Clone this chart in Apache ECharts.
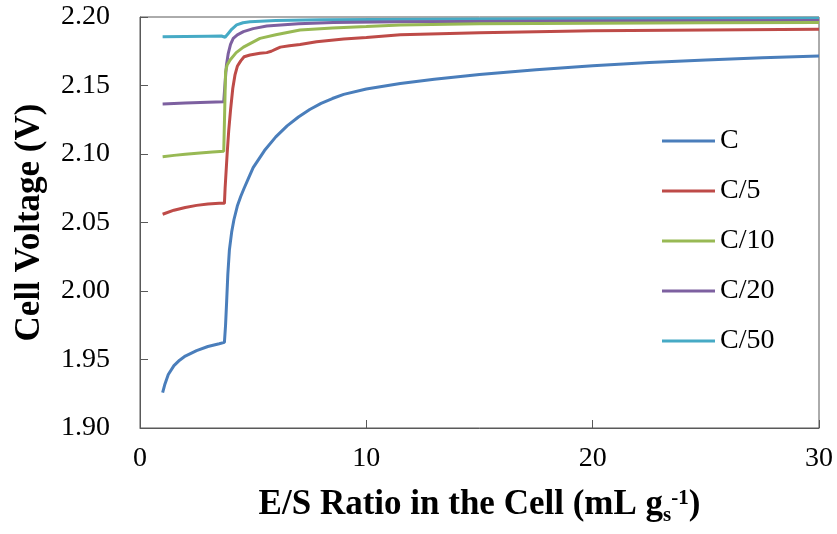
<!DOCTYPE html>
<html>
<head>
<meta charset="utf-8">
<script src="https://cdn.jsdelivr.net/npm/echarts@6/dist/echarts.min.js"></script>
<style>
  html, body { margin: 0; padding: 0; background: #fff; }
  #chart { width: 837px; height: 534px; }
</style>
</head>
<body>
<div id="chart"></div>
<script>
// Cell voltage vs. electrolyte/sulfur ratio at several C-rates
const seriesNames = ['C', 'C/5', 'C/10', 'C/20', 'C/50'];
const seriesColors = ['#4A7EBB', '#BE4B48', '#98B954', '#7D60A0', '#46AAC5'];

// C
const esC = [1, 1.1, 1.25, 1.5, 1.75, 2, 2.5, 3, 3.5, 3.73, 3.78, 3.83, 3.88, 3.95, 4.05, 4.15, 4.3, 4.45, 4.6, 4.8, 5, 5.5, 6, 6.5, 7, 7.5, 8, 8.5, 9, 10, 11.5, 13, 15, 17.5, 20, 22.5, 25, 27.5, 30];
const vC  = [1.9258, 1.932, 1.939, 1.9455, 1.9495, 1.9525, 1.9565, 1.9595, 1.9615, 1.9625, 1.975, 1.993, 2.012, 2.030, 2.043, 2.052, 2.062, 2.069, 2.075, 2.0825, 2.090, 2.1025, 2.1125, 2.1205, 2.127, 2.1325, 2.137, 2.1405, 2.1435, 2.1475, 2.1515, 2.1545, 2.158, 2.1615, 2.1645, 2.1668, 2.1687, 2.1702, 2.1715];

// C/5
const esC5 = [1, 1.5, 2, 2.5, 3, 3.5, 3.73, 3.76, 3.85, 3.92, 4.0, 4.1, 4.2, 4.3, 4.45, 4.6, 4.86, 5.3, 5.6, 5.8, 6.0, 6.2, 6.6, 7.07, 7.8, 9, 10, 11.5, 15, 20, 25, 30];
const vC5  = [2.056, 2.059, 2.061, 2.0625, 2.0635, 2.064, 2.064, 2.075, 2.100, 2.117, 2.132, 2.148, 2.158, 2.164, 2.168, 2.171, 2.1723, 2.1735, 2.174, 2.175, 2.1765, 2.178, 2.179, 2.180, 2.182, 2.184, 2.185, 2.187, 2.1885, 2.190, 2.1905, 2.191];

// C/10
const esC10 = [1, 1.5, 2, 2.65, 3.2, 3.7, 3.74, 3.78, 3.85, 3.98, 4.25, 4.57, 5.3, 6, 7.07, 8.5, 10, 11.5, 15, 20, 25, 30];
const vC10  = [2.098, 2.099, 2.0998, 2.1008, 2.1015, 2.102, 2.130, 2.160, 2.165, 2.1686, 2.174, 2.178, 2.1844, 2.187, 2.1905, 2.192, 2.193, 2.1942, 2.195, 2.1955, 2.1958, 2.196];

// C/20
const esC20 = [1, 2, 3, 3.7, 3.75, 3.82, 3.9, 4.0, 4.12, 4.3, 4.57, 5.0, 5.6, 7, 8.54, 11.5, 20, 30];
const vC20  = [2.1365, 2.1372, 2.1378, 2.1382, 2.150, 2.165, 2.1735, 2.180, 2.1844, 2.187, 2.1893, 2.1915, 2.1934, 2.195, 2.1959, 2.1966, 2.197, 2.1975];

// C/50
const esC50 = [1, 2, 3, 3.6, 3.76, 3.9, 4.05, 4.27, 4.55, 4.86, 6, 8, 15, 30];
const vC50  = [2.1856, 2.1858, 2.186, 2.1861, 2.1852, 2.188, 2.191, 2.1942, 2.1958, 2.1966, 2.1975, 2.198, 2.1985, 2.199];

const xs = [esC, esC5, esC10, esC20, esC50];
const ys = [vC, vC5, vC10, vC20, vC50];

const serif = 'Liberation Serif, Times New Roman, serif';
const axisColor = '#595959';

const chart = echarts.init(document.getElementById('chart'), null, { renderer: 'canvas' });

chart.setOption({
  animation: false,
  backgroundColor: '#ffffff',
  grid: {
    left: 140, right: 18, top: 17, bottom: 106,
    show: true, borderColor: axisColor, borderWidth: 1
  },
  legend: {
    orient: 'vertical',
    left: 657, top: 121,
    itemWidth: 53, itemHeight: 3,
    itemGap: 20,
    icon: 'rect',
    data: seriesNames,
    textStyle: { fontFamily: serif, fontSize: 28, color: '#000', lineHeight: 30 }
  },
  xAxis: {
    type: 'value',
    min: 0, max: 30, interval: 10,
    name: '{t|E/S Ratio in the Cell (mL g}{sub|s}{sup|-1}{t|)}',
    nameLocation: 'middle',
    nameGap: 56,
    nameTextStyle: {
      rich: {
        t: { fontFamily: serif, fontSize: 35, fontWeight: 'bold', color: '#000', lineHeight: 42 },
        sub: { fontFamily: serif, fontSize: 21, fontWeight: 'bold', color: '#000', lineHeight: 42, verticalAlign: 'bottom' },
        sup: { fontFamily: serif, fontSize: 21, fontWeight: 'bold', color: '#000', lineHeight: 42, verticalAlign: 'top', padding: [4, 0, 0, 0] }
      }
    },
    axisLine: { onZero: false, lineStyle: { color: axisColor, width: 1 } },
    axisTick: { inside: true, length: 8, lineStyle: { color: axisColor } },
    axisLabel: { fontFamily: serif, fontSize: 28, color: '#000', margin: 17 },
    splitLine: { show: false }
  },
  yAxis: {
    type: 'value',
    min: 1.9, max: 2.2, interval: 0.05,
    name: 'Cell Voltage (V)',
    nameLocation: 'middle',
    nameGap: 93,
    nameTextStyle: { fontFamily: serif, fontSize: 35, fontWeight: 'bold', color: '#000' },
    axisLine: { onZero: false, lineStyle: { color: axisColor, width: 1 } },
    axisTick: { inside: true, length: 8, lineStyle: { color: axisColor } },
    axisLabel: {
      fontFamily: serif, fontSize: 28, color: '#000', margin: 30,
      formatter: v => v.toFixed(2)
    },
    splitLine: { show: false }
  },
  series: seriesNames.map((name, i) => ({
    name: name,
    type: 'line',
    data: xs[i].map((x, j) => [x, ys[i][j]]),
    showSymbol: false,
    symbol: 'none',
    smooth: false,
    lineStyle: { color: seriesColors[i], width: 3 },
    itemStyle: { color: seriesColors[i] },
    z: 10 - i
  }))
});
</script>
</body>
</html>
